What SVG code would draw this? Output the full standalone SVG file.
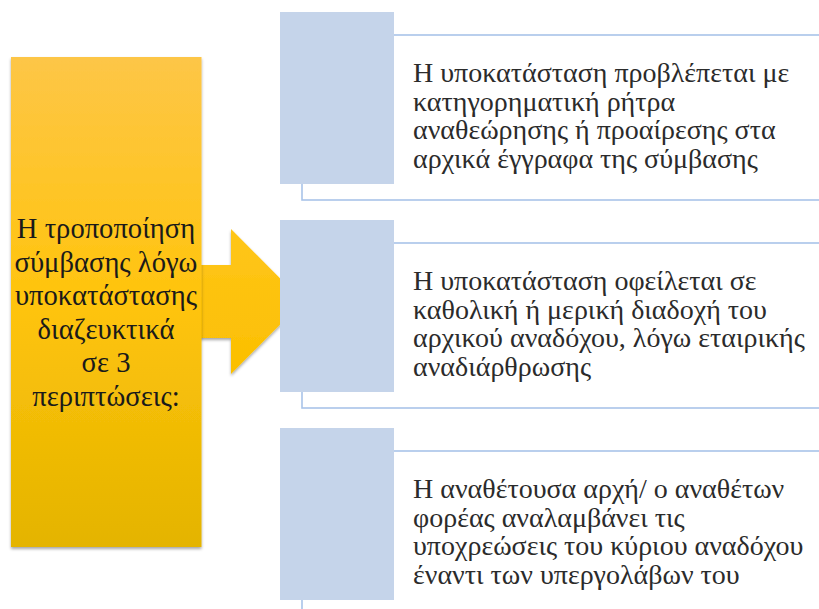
<svg xmlns="http://www.w3.org/2000/svg" width="819" height="609" viewBox="0 0 819 609">
  <style>
    .sq { fill: #C5D4EA; }
    .box { fill: #FFFFFF; stroke: #A9C4E9; stroke-width: 1.6; }
    .t { font-family: "Liberation Serif", "Times New Roman", serif; font-size: 28px; fill: #2B2B2B; }
    .lt { font-family: "Liberation Serif", "Times New Roman", serif; font-size: 28.6px; fill: #1A1A1A; text-anchor: middle; }
  </style>
  <defs>
    <linearGradient id="gold" x1="0" y1="0" x2="0" y2="1">
      <stop offset="0" stop-color="#FDC647"/>
      <stop offset="0.5" stop-color="#FFC40C"/>
      <stop offset="1" stop-color="#E4B400"/>
    </linearGradient>
    <linearGradient id="arrowg" x1="0" y1="0" x2="0" y2="1">
      <stop offset="0" stop-color="#FFC61A"/>
      <stop offset="1" stop-color="#FBBF00"/>
    </linearGradient>
    <filter id="sh" x="-10%" y="-10%" width="130%" height="130%">
      <feDropShadow dx="0" dy="2" stdDeviation="1.5" flood-color="#000" flood-opacity="0.35"/>
    </filter>
  </defs>

  <g id="connectors">
    <polygon id="arrow" points="190,265 231,265 231,229 303,301.5 231,374 231,338 190,338" fill="url(#arrowg)" filter="url(#sh)"/>
  </g>

  <g id="main">
    <rect x="11" y="57" width="190.5" height="490" fill="url(#gold)" filter="url(#sh)"/>
    <text class="lt" x="106" y="238">Η τροποποίηση</text>
    <text class="lt" x="106" y="271.5">σύμβασης λόγω</text>
    <text class="lt" x="106" y="305">υποκατάστασης</text>
    <text class="lt" x="106" y="338.5">διαζευκτικά</text>
    <text class="lt" x="106" y="372">σε 3</text>
    <text class="lt" x="106" y="405.5">περιπτώσεις:</text>
  </g>

  <g id="case1">
    <rect class="box" x="302" y="35" width="530" height="165"/>
    <rect class="sq" x="280" y="12" width="114" height="172"/>
    <text class="t" x="413" y="82">Η υποκατάσταση προβλέπεται με</text>
    <text class="t" x="413" y="110.5">κατηγορηματική ρήτρα</text>
    <text class="t" x="413" y="139">αναθεώρησης ή προαίρεσης στα</text>
    <text class="t" x="413" y="167.5">αρχικά έγγραφα της σύμβασης</text>
  </g>

  <g id="case2">
    <rect class="box" x="302" y="243" width="530" height="165"/>
    <rect class="sq" x="280" y="220" width="114" height="172"/>
    <text class="t" x="413" y="290">Η υποκατάσταση οφείλεται σε</text>
    <text class="t" x="413" y="318.5">καθολική ή μερική διαδοχή του</text>
    <text class="t" x="413" y="347">αρχικού αναδόχου, λόγω εταιρικής</text>
    <text class="t" x="413" y="375.5">αναδιάρθρωσης</text>
  </g>

  <g id="case3">
    <rect class="box" x="302" y="451" width="530" height="165"/>
    <rect class="sq" x="280" y="428" width="114" height="172"/>
    <text class="t" x="413" y="498">Η αναθέτουσα αρχή/ ο αναθέτων</text>
    <text class="t" x="413" y="526.5">φορέας αναλαμβάνει τις</text>
    <text class="t" x="413" y="555">υποχρεώσεις του κύριου αναδόχου</text>
    <text class="t" x="413" y="583.5">έναντι των υπεργολάβων του</text>
  </g>
</svg>
